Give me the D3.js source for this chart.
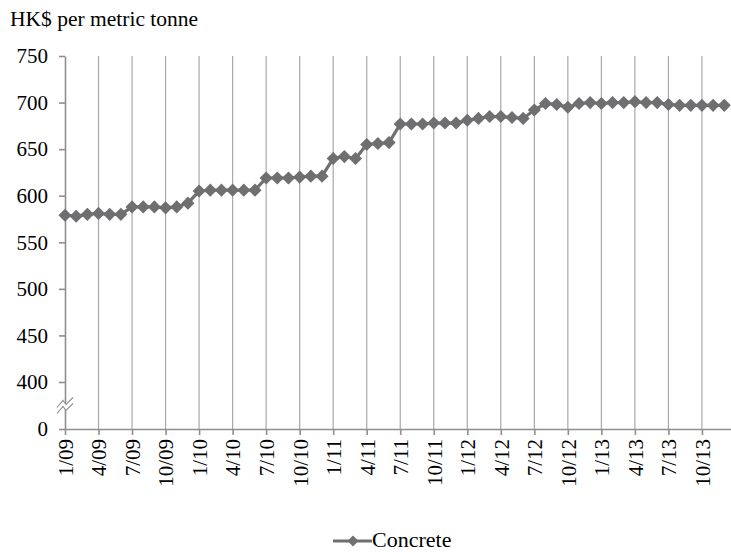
<!DOCTYPE html>
<html>
<head>
<meta charset="utf-8">
<script src="https://cdn.jsdelivr.net/npm/d3@7"></script>
<style>
  html, body { margin: 0; padding: 0; background: #fff; }
  svg text.tm { font-family: "Times New Roman", Times, "Liberation Serif", serif !important; }
</style>
</head>
<body>
<svg id="chart" width="731" height="552"></svg>
<script>
// Monthly concrete price, Jan 2009 – Dec 2013 (HK$ per metric tonne)
const months = [
  "1/09","2/09","3/09","4/09","5/09","6/09","7/09","8/09","9/09","10/09","11/09","12/09",
  "1/10","2/10","3/10","4/10","5/10","6/10","7/10","8/10","9/10","10/10","11/10","12/10",
  "1/11","2/11","3/11","4/11","5/11","6/11","7/11","8/11","9/11","10/11","11/11","12/11",
  "1/12","2/12","3/12","4/12","5/12","6/12","7/12","8/12","9/12","10/12","11/12","12/12",
  "1/13","2/13","3/13","4/13","5/13","6/13","7/13","8/13","9/13","10/13","11/13","12/13"
];
const concrete = [
  579, 578, 580, 581, 580, 580, 588, 588, 588, 587, 588, 592,
  605, 606, 606, 606, 606, 606, 619, 619, 619, 620, 621, 621,
  640, 642, 640, 655, 656, 657, 677, 677, 677, 678, 678, 678,
  681, 683, 685, 685, 684, 683, 692, 699, 698, 695, 699, 700,
  699, 700, 700, 701, 700, 700, 698, 697, 697, 697, 697, 697
];
const yTicks = [0, 400, 450, 500, 550, 600, 650, 700, 750];
const xTickLabels = ["1/09","4/09","7/09","10/09","1/10","4/10","7/10","10/10",
  "1/11","4/11","7/11","10/11","1/12","4/12","7/12","10/12","1/13","4/13","7/13","10/13"];

const svg = d3.select("#chart");
const axisColor = "#8f8f8f";
const gridColor = "#a8a8a8";
const seriesColor = "#6f6f71";
const serif = '"Times New Roman", Times, "Liberation Serif", serif';

const plotLeft = 65, plotRight = 731, plotTop = 56, plotBottom = 429;

// Linear in index; the plot runs a little past the last month
const x = d3.scaleLinear().domain([0, 59.6]).range([plotLeft, plotRight]);
// Broken axis: 0 at the bottom, then 400–750
const y = d3.scaleLinear().domain([0, 400, 750]).range([plotBottom, 382, plotTop]);

const tickIdx = xTickLabels.map(l => months.indexOf(l));

// Vertical gridlines at each quarter
svg.append("g")
  .selectAll("line")
  .data(tickIdx.slice(1))
  .join("line")
  .attr("x1", d => x(d)).attr("x2", d => x(d))
  .attr("y1", plotTop).attr("y2", plotBottom)
  .attr("stroke", gridColor).attr("stroke-width", 1.2);

// Y axis
const yAxis = svg.append("g")
  .attr("transform", `translate(${plotLeft},0)`)
  .call(d3.axisLeft(y).tickValues(yTicks).tickSize(6).tickSizeOuter(0))
  .attr("font-family", serif);
yAxis.select(".domain").attr("stroke", axisColor).attr("stroke-width", 1.6);
yAxis.selectAll(".tick line").attr("stroke", axisColor).attr("stroke-width", 1.6);
yAxis.selectAll(".tick text")
  .attr("x", -17)
  .attr("font-size", 21)
  .attr("fill", "#000");

// Axis break mark
const brk = svg.append("g").attr("transform", `translate(${plotLeft},${y(200) - 1})`);
const zigA = [[-8, 3], [-2, -4], [1, 0], [8, -7]];
const zigB = zigA.map(([a, b]) => [a, b + 6]);
brk.append("path")
  .attr("d", d3.line()(zigA.concat(zigB.slice().reverse())) + "Z")
  .attr("fill", "#fff").attr("stroke", "none");
[zigA, zigB].forEach(p => brk.append("path")
  .attr("d", d3.line()(p))
  .attr("fill", "none").attr("stroke", axisColor).attr("stroke-width", 1.1));

// X axis
const xAxis = svg.append("g")
  .attr("transform", `translate(0,${plotBottom})`)
  .call(d3.axisBottom(x).tickValues(tickIdx)
    .tickFormat((d, i) => xTickLabels[i]).tickSize(6).tickSizeOuter(0))
  .attr("font-family", serif);
xAxis.select(".domain").attr("stroke", axisColor).attr("stroke-width", 1.6);
xAxis.selectAll(".tick line").attr("stroke", axisColor).attr("stroke-width", 1.6);
xAxis.selectAll(".tick text")
  .attr("font-size", 21)
  .attr("fill", "#000")
  .attr("text-anchor", "end")
  .attr("transform", "rotate(-90)")
  .attr("x", -10)
  .attr("y", 0)
  .attr("dy", "0.35em");

// Series line and diamond markers
const line = d3.line().x((d, i) => x(i)).y(d => y(d));
svg.append("path")
  .datum(concrete)
  .attr("d", line)
  .attr("fill", "none")
  .attr("stroke", seriesColor)
  .attr("stroke-width", 3.2);

const diamond = d3.symbol().type(d3.symbolSquare).size(86);
svg.append("g")
  .selectAll("path")
  .data(concrete)
  .join("path")
  .attr("d", diamond)
  .attr("transform", (d, i) => `translate(${x(i)},${y(d)}) rotate(45)`)
  .attr("fill", seriesColor);

// Unit label
svg.append("text")
  .attr("x", 10).attr("y", 26)
  .attr("font-size", 21.5)
  .attr("fill", "#000")
  .text("HK$ per metric tonne");

// Legend
const lg = svg.append("g").attr("transform", "translate(333,541)");
lg.append("line").attr("x1", 0).attr("x2", 39).attr("y1", 0).attr("y2", 0)
  .attr("stroke", seriesColor).attr("stroke-width", 3.2);
lg.append("path").attr("d", d3.symbol().type(d3.symbolSquare).size(60))
  .attr("transform", "translate(20,0) rotate(45)")
  .attr("fill", seriesColor);
lg.append("text").attr("x", 39).attr("y", 6)
  .attr("font-size", 22).attr("fill", "#000").text("Concrete");

// Serif face for every label
svg.selectAll("text").classed("tm", true).style("font-family", serif);
</script>
</body>
</html>
